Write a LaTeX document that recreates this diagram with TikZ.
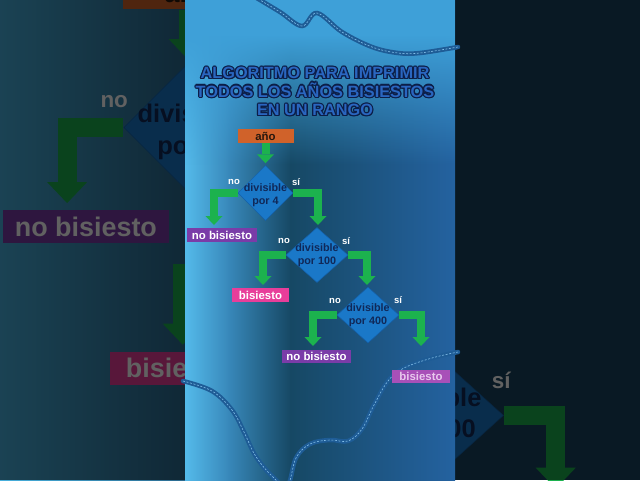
\documentclass[tikz,border=0pt]{standalone}
\usepackage{fontspec}
\setmainfont{Liberation Sans}
\usetikzlibrary{arrows.meta,shapes.geometric,fadings}

\definecolor{arrgreen}{RGB}{28,178,78}
\definecolor{diablue}{RGB}{26,120,200}
\definecolor{diaedge}{RGB}{20,96,170}
\definecolor{dianavy}{RGB}{16,40,88}
\definecolor{anobox}{RGB}{208,98,42}
\definecolor{anotext}{RGB}{40,24,14}
\definecolor{purp}{RGB}{122,60,168}
\definecolor{pinkbox}{RGB}{232,62,154}
\definecolor{violbox}{RGB}{168,80,184}
\definecolor{lavtext}{RGB}{232,200,238}
\definecolor{titlefill}{RGB}{42,102,192}
\definecolor{titleline}{RGB}{12,30,72}
\definecolor{tubecol}{RGB}{30,92,150}
\definecolor{stitchcol}{RGB}{130,190,232}
\definecolor{pA}{RGB}{84,186,234}
\definecolor{pB}{RGB}{56,136,186}
\definecolor{pC}{RGB}{22,72,100}
\definecolor{pD}{RGB}{36,98,160}
\definecolor{topblue}{RGB}{62,160,216}
\definecolor{leftA}{RGB}{71,176,221}
\definecolor{leftB}{RGB}{42,105,142}
\definecolor{rightA}{RGB}{26,68,95}

\newcommand\ttltext{ALGORITMO PARA IMPRIMIR\\TODOS LOS AÑOS BISIESTOS\\EN UN RANGO}

\newcommand\chartbody{%
\node[boxs, fill=anobox, text=anotext, minimum width=56pt] (ano) at (265.5,136) {año};
\node[dia, minimum width=55pt, minimum height=55pt] (d1) at (265.5,193) {};
\node[dia, minimum width=62pt, minimum height=55pt] (d2) at (317,255) {};
\node[dia, minimum width=62pt, minimum height=56pt] (d3) at (368,315) {};
\node[boxs, fill=purp, minimum width=70pt] (nb1) at (222,235) {no bisiesto};
\node[boxs, fill=pinkbox, minimum width=57pt] (b2) at (260.5,295) {bisiesto};
\node[boxs, fill=purp, minimum width=69pt, minimum height=13pt] (nb3) at (316.5,356.5) {no bisiesto};
\node[boxs, fill=violbox, text=lavtext, minimum width=58pt, minimum height=13pt] (b4) at (421,376.5) {bisiesto};
\coordinate (t1l) at (214,225);
\coordinate (t1r) at (318,225);
\coordinate (t2l) at (263,285);
\coordinate (t2r) at (367,285);
\coordinate (t3l) at (313,346);
\coordinate (t3r) at (421,346);
\draw[arr, shorten >=2pt] (ano.south) -- (d1.north);
\draw[arr] (d1.west) -| (t1l);
\draw[arr] (d1.east) -| (t1r);
\draw[arr] (d2.west) -| (t2l);
\draw[arr] (d2.east) -| (t2r);
\draw[arr] (d3.west) -| (t3l);
\draw[arr] (d3.east) -| (t3r);
\node[dtxt] (d1t) at (265.5,195) {divisible\\por 4};
\node[dtxt] (d2t) at (317,255) {divisible\\por 100};
\node[dtxt] (d3t) at (368,315) {divisible\\por 400};
\node[yn] (y1n) at (234,182) {no};
\node[yn] (y1s) at (296,182) {sí};
\node[yn] (y2n) at (284,241) {no};
\node[yn] (y2s) at (346,241) {sí};
\node[yn] (y3n) at (335,301) {no};
\node[yn] (y3s) at (398,300) {sí};
}

\begin{document}
\begin{tikzpicture}[x=1pt,y=-1pt,
 arr/.style={draw=arrgreen, line width=8pt, line join=miter, -{Triangle[width=17pt,length=9pt,line width=0pt]}},
 dia/.style={diamond, fill=diablue, draw=diaedge, line width=0.5pt, inner sep=0pt},
 dtxt/.style={text=dianavy, align=center, font=\fontsize{10.8}{13.5}\selectfont\bfseries, inner sep=0pt},
 boxs/.style={rectangle, minimum height=14pt, inner sep=0pt, text=white, font=\fontsize{11.4}{13}\selectfont\bfseries},
 yn/.style={text=white, font=\fontsize{9.5}{11}\selectfont\bfseries, inner sep=0pt},
 ttl/.style={align=center, font=\fontsize{16.3}{18.5}\selectfont\bfseries, inner sep=0pt},
 tube/.style={draw=tubecol, line width=4.5pt, line cap=round},
 stitchl/.style={draw=stitchcol, line width=0.6pt, dash pattern=on 2pt off 1.6pt}
]
\useasboundingbox (0,0) rectangle (640,480);
\clip (0,0) rectangle (640,480);

% side panels (blurred, enlarged copy of the chart)
\shade[left color=leftA, right color=leftB] (0,0) rectangle (186,480);
\fill[rightA] (454,0) rectangle (640,480);
\begin{scope}[shift={(-438,-328)}, scale=2.36, transform shape, name prefix=bg-]
 \tikzset{arr/.style={draw=arrgreen, line width=18.9pt, line join=miter, -{Triangle[width=40pt,length=21pt,line width=0pt]}}}
 \chartbody
\end{scope}
\fill[black, opacity=0.62] (0,0) rectangle (186,480);
\fill[black, opacity=0.62] (454,0) rectangle (640,480);

% central panel background
\shade[left color=pA, right color=pB] (185,0) rectangle (229,480);
\shade[left color=pB, right color=pC] (228,0) rectangle (291,480);
\shade[left color=pC, right color=pD] (290,0) rectangle (455,480);
\fill[topblue] (185,0) rectangle (455,36);
\fill[topblue, path fading=south] (185,35) rectangle (455,165);

% decorative tubes
\draw[tube] plot[smooth, tension=0.6] coordinates {(255,-3) (280,12) (302,26) (317,13) (342,32) (372,47) (398,53) (420,53) (458,47)};
\draw[stitchl] plot[smooth, tension=0.6] coordinates {(255,-3) (280,12) (302,26) (317,13) (342,32) (372,47) (398,53) (420,53) (458,47)};
\draw[tube] plot[smooth, tension=0.6] coordinates {(183,381) (212,391) (232,410) (244,432) (255,455) (270,474) (287,486) (296,458) (310,444) (330,440) (348,441) (362,429) (374,405) (388,381) (404,368) (432,358) (458,352)};
\draw[stitchl] plot[smooth, tension=0.6] coordinates {(183,381) (212,391) (232,410) (244,432) (255,455) (270,474) (287,486) (296,458) (310,444) (330,440) (348,441) (362,429) (374,405) (388,381) (404,368) (432,358) (458,352)};

% title with outline
\foreach \a in {0,30,...,330}
  \node[ttl, text=titleline] (title-\a) at ([shift={(\a:1.2)}]315,91.5) {\ttltext};
\node[ttl, text=titlefill] (title) at (315,91.5) {\ttltext};

% flowchart
\chartbody
\end{tikzpicture}
\end{document}
